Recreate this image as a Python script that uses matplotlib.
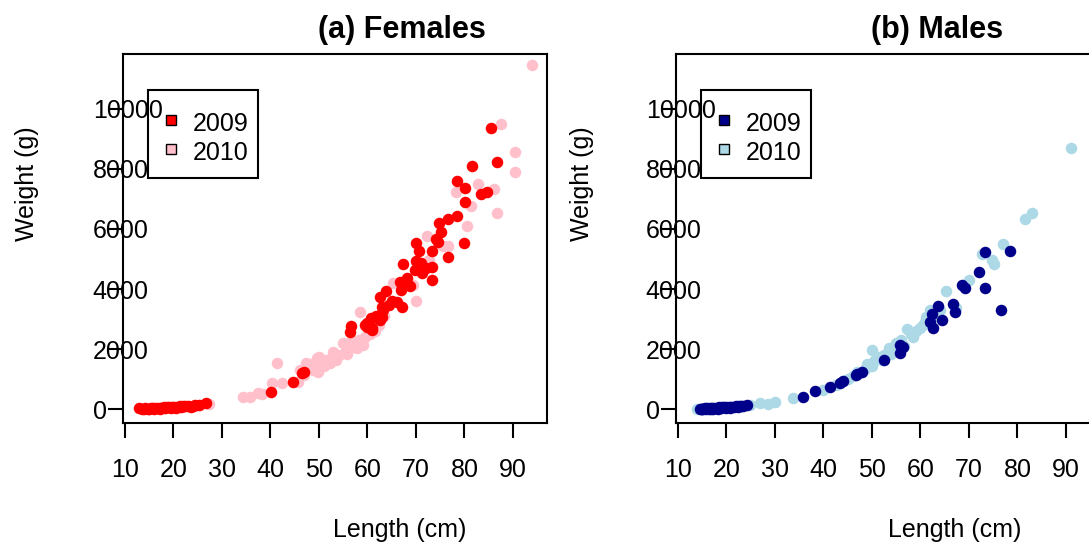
import matplotlib.pyplot as plt
from matplotlib.patches import Rectangle

plt.rcParams['font.family'] = ['Liberation Sans', 'DejaVu Sans']

# (a) Females
fem_len_2009 = [12.9, 13.5, 14.2, 14.8, 15.3, 15.8, 16.0, 16.4, 17.0, 17.5, 18.0, 18.3,
                18.6, 19.1, 19.7, 20.2, 20.5, 20.8, 21.3, 21.9, 22.4, 23.0, 24.5, 25.2,
                26.8, 14.0, 15.0, 17.2, 19.4, 21.6, 23.6, 24.0,
                40.2, 44.6, 46.4, 47.0, 56.3, 56.7, 59.8, 60.4, 61.0, 60.0, 61.0,
                60.8, 62.5, 62.9, 62.9, 64.5, 62.5, 63.9, 66.0, 67.2, 67.0, 66.6, 68.2,
                69.7, 67.4, 70.1, 71.1, 71.3, 73.4, 73.2, 70.1, 70.7, 73.2, 76.5, 74.2,
                74.6, 75.2, 74.8, 76.5, 78.5, 79.8, 80.2, 80.2, 78.5, 83.5, 84.7, 81.6,
                86.7, 85.5, 59.5, 61.8, 63.2, 65.0, 68.8, 72.0]
fem_wt_2009 = [30, 20, 35, 25, 40, 35, 20, 50, 45, 55, 60, 30,
               60, 70, 75, 80, 50, 85, 95, 100, 105, 110, 150, 140,
               200, 10, 15, 25, 40, 60, 90, 120,
               570, 900, 1200, 1240, 2575, 2775, 2740, 2875, 2640, 2880, 2710,
               3040, 2980, 3080, 3410, 3480, 3750, 3950, 3580, 3410, 3980, 4250, 4380,
               4650, 4850, 4950, 4880, 4550, 4720, 4310, 5520, 5250, 5280, 5080, 5650,
               5550, 5890, 6190, 6320, 6420, 5520, 6890, 7360, 7590, 7160, 7220, 8090,
               8230, 9370, 2820, 3100, 3300, 3600, 4100, 4700]
fem_len_2010 = [15.5, 18.5, 20.0, 22.0, 23.2, 24.4, 25.5, 27.3, 34.3, 35.8, 37.4, 38.2,
                40.3, 41.3, 42.3, 45.6, 46.0, 47.4, 48.0, 49.0, 49.5, 49.7, 50.1, 50.7,
                51.5, 52.8, 53.6, 54.2, 54.9, 55.5, 56.3, 56.9, 57.5, 58.8, 59.5, 58.4,
                60.5, 61.5, 62.3, 63.5, 65.3, 69.3, 70.1, 72.3, 72.7, 75.5, 76.5, 78.3,
                80.6, 81.4, 82.8, 86.1, 86.7, 87.6, 90.5, 90.5, 94.0,
                47.0, 48.8, 51.0, 52.2, 53.0, 55.8, 57.8, 58.2, 59.0]
fem_wt_2010 = [30, 50, 60, 90, 110, 120, 150, 160, 420, 400, 540, 500,
               870, 1540, 870, 900, 1300, 1540, 1400, 1550, 1710, 1240, 1740, 1470,
               1650, 1900, 1640, 1800, 2200, 1950, 2040, 2300, 2150, 2200, 2400, 3240,
               2500, 2600, 2800, 3100, 4200, 4150, 3610, 5750, 4970, 5420, 5420, 7220,
               6090, 6760, 7490, 7320, 6520, 9500, 8560, 7890, 11440,
               1150, 1300, 1450, 1550, 1700, 1850, 2050, 2300, 2150]

# (b) Males
mal_len_2009 = [14.5, 15.0, 15.2, 15.5, 16.0, 16.5, 16.8, 17.0, 17.5, 18.0, 18.2, 18.5,
                19.0, 19.5, 19.8, 20.0, 20.5, 21.0, 21.5, 22.0, 22.5, 23.0, 23.5, 24.3,
                14.8, 15.8, 16.3, 17.3, 18.8, 20.8, 22.3,
                35.7, 38.2, 41.3, 43.3, 44.0, 46.8, 47.0, 47.9, 52.4, 55.7, 56.3, 55.7,
                62.3, 61.9, 62.5, 64.5, 63.7, 66.6, 67.2, 68.6, 69.1, 72.1, 73.4, 73.2,
                78.5, 76.5]
mal_wt_2009 = [20, 25, 10, 30, 35, 40, 15, 45, 50, 55, 25, 60,
               65, 70, 40, 75, 80, 85, 90, 95, 100, 105, 115, 130,
               0, 5, 20, 20, 30, 50, 70,
               400, 600, 740, 870, 940, 1140, 1170, 1240, 1640, 2140, 2070, 1870,
               3180, 2910, 2710, 2980, 3450, 3510, 3240, 4150, 4050, 4580, 4050, 5220,
               5280, 3310]
mal_len_2010 = [13.9, 15.0, 17.0, 19.0, 21.0, 23.0, 24.8, 26.9, 28.5, 30.0, 33.7, 40.0,
                42.5, 45.0, 46.0, 48.5, 49.9, 49.0, 50.5, 51.5, 52.5, 53.6, 54.5, 55.0,
                56.0, 57.3, 58.0, 59.0, 59.8, 60.5, 61.2, 62.0, 63.0, 64.0, 65.3, 67.4,
                70.1, 72.6, 74.8, 75.2, 77.1, 81.6, 83.0, 91.1,
                44.0, 47.0, 50.0, 52.0, 54.0, 56.5, 58.5, 61.0]
mal_wt_2010 = [0, 20, 30, 50, 70, 100, 130, 200, 170, 230, 370, 650,
               820, 1000, 1100, 1350, 1970, 1500, 1600, 1750, 1800, 2040, 1950, 2200,
               2300, 2680, 2500, 2600, 2710, 2800, 3080, 3300, 3100, 3300, 3950, 3380,
               4310, 5180, 4980, 4820, 5490, 6320, 6520, 8700,
               950, 1250, 1450, 1650, 1850, 2100, 2400, 2900]

years = ['2009', '2010']
x_ticks = [10, 20, 30, 40, 50, 60, 70, 80, 90]
y_ticks = [0, 2000, 4000, 6000, 8000, 10000]

W, H = 1089, 544
fig = plt.figure(figsize=(W / 100, H / 100), dpi=100)


def panel(left_px, len09, wt09, len10, wt10, c09, c10, title, title_x, xlab_x, ylab_x):
    ax = fig.add_axes([left_px / W, (H - 423) / H, 423.4 / W, 369 / H])
    ax.plot(len10, wt10, 'o', color=c10, ms=8.3, mew=0)
    ax.plot(len09, wt09, 'o', color=c09, ms=8.3, mew=0)
    ax.set_xlim(9.65, 96.95)
    ax.set_ylim(-456, 11820)
    ax.set_xticks(x_ticks)
    ax.set_xticklabels([str(v) for v in x_ticks])
    ax.set_yticks(y_ticks)
    ax.set_yticklabels([str(v) for v in y_ticks], ha='left')
    ax.tick_params(direction='out', length=10.5, width=1.5, labelsize=18, colors='black')
    ax.tick_params(axis='x', pad=15)
    ax.tick_params(axis='y', pad=11.5)
    for s in ax.spines.values():
        s.set_linewidth(1.5)

    # legend box drawn like R's legend()
    ax.add_patch(Rectangle((0.0583, 0.664), 0.26, 0.2385, transform=ax.transAxes,
                           fill=False, edgecolor='black', lw=1.5, zorder=5))
    for i, (yr, c) in enumerate(zip(years, [c09, c10])):
        ym = 0.821 - i * 0.0786
        ax.plot([0.1127], [ym], 's', transform=ax.transAxes, ms=7.2,
                mfc=c, mec='black', mew=1.0, zorder=6, clip_on=False)
        ax.text(0.1646, ym - 0.011, yr, transform=ax.transAxes, fontsize=18,
                ha='left', va='center', zorder=6)

    fig.text(title_x / W, 1 - 30 / H, title, ha='center', va='center',
             fontsize=22, fontweight='bold')
    fig.text(xlab_x / W, 1 - 530 / H, 'Length (cm)', ha='center', va='center', fontsize=18)
    fig.text(ylab_x / W, 1 - 184 / H, 'Weight (g)', ha='center', va='center',
             fontsize=18, rotation=90)
    return ax


panel(123.3, fem_len_2009, fem_wt_2009, fem_len_2010, fem_wt_2010,
      '#FF0000', '#FFC0CB', '(a) Females', 402, 400, 27)
panel(676.3, mal_len_2009, mal_wt_2009, mal_len_2010, mal_wt_2010,
      '#00008B', '#ADD8E6', '(b) Males', 937, 955, 582)

fig.savefig('out.png', dpi=100)
